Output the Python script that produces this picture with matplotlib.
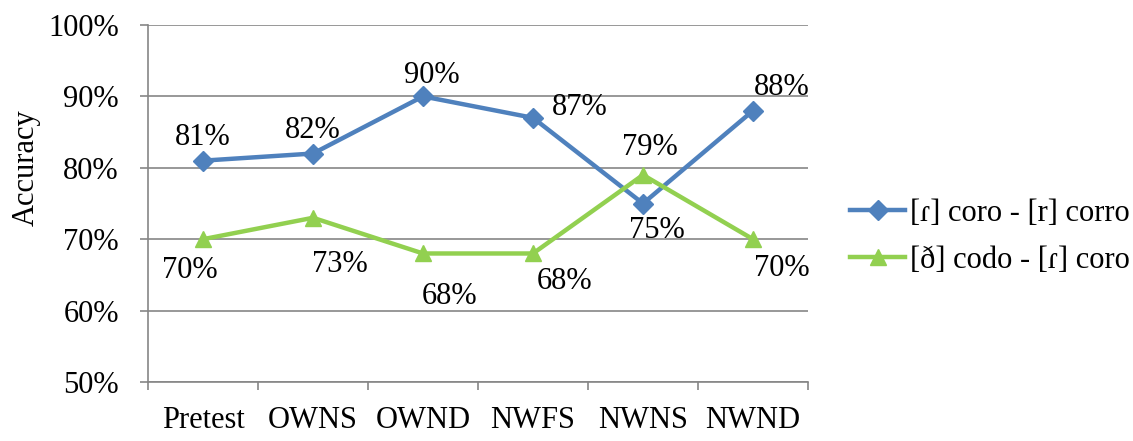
import numpy as np
import matplotlib.pyplot as plt
from matplotlib.ticker import FixedLocator, FuncFormatter

plt.rcParams['font.family'] = ['Liberation Serif', 'DejaVu Serif']

categories = ['Pretest', 'OWNS', 'OWND', 'NWFS', 'NWNS', 'NWND']
tap_trill = [81, 82, 90, 87, 75, 88]
fric_tap = [70, 73, 68, 68, 79, 70]
series_names = ['[ɾ] coro - [r] corro', '[ð] codo - [ɾ] coro']

# label offsets in pixels, relative to each point
off_blue = [(0, 23), (0, 23), (9, 21), (47, 10), (14, -27), (29, 23)]
off_green = [(-13, -31), (27, -47), (27, -43), (32, -28), (7, 27), (29, -29)]

blue = '#4F81BD'
green = '#92D050'
grid = '#868686'
fs = 22

fig = plt.figure(figsize=(11.33, 4.41), dpi=100)
ax = fig.add_axes([148 / 1133, 59 / 441, 660 / 1133, 357 / 441])

x = np.arange(len(categories))
ax.plot(x, tap_trill, color=blue, lw=3.2, marker='D', ms=10, label=series_names[0])
ax.plot(x, fric_tap, color=green, lw=3.2, marker='^', ms=12, label=series_names[1])

for xi, v, o in zip(x, tap_trill, off_blue):
    ax.annotate(f'{v}%', (xi, v), xytext=o, textcoords='offset pixels',
                ha='center', va='center', fontsize=fs)
for xi, v, o in zip(x, fric_tap, off_green):
    ax.annotate(f'{v}%', (xi, v), xytext=o, textcoords='offset pixels',
                ha='center', va='center', fontsize=fs)

ax.set_xlim(-0.5, len(categories) - 0.5)
ax.set_ylim(50, 100)
ax.set_yticks(range(50, 101, 10))
ax.yaxis.set_major_formatter(FuncFormatter(lambda v, p: f'{v:.0f}%'))
ax.xaxis.set_major_locator(FixedLocator(np.arange(-0.5, len(categories), 1)))
ax.xaxis.set_minor_locator(FixedLocator(x))
ax.xaxis.set_major_formatter(FuncFormatter(lambda v, p: ''))
ax.set_xticklabels(categories, minor=True)
ax.tick_params(axis='x', which='minor', length=0, pad=17, labelsize=fs)
ax.tick_params(axis='x', which='major', length=6, color=grid, width=1.2)
ax.tick_params(axis='y', length=6, color=grid, width=1.2, pad=15, labelsize=fs)

ax.grid(axis='y', color=grid, lw=1.2)
ax.set_axisbelow(True)
for s in ['top', 'right']:
    ax.spines[s].set_visible(False)
for s in ['left', 'bottom']:
    ax.spines[s].set_color(grid)
    ax.spines[s].set_linewidth(1.2)

ax.set_ylabel('Accuracy', fontsize=fs)
ax.yaxis.set_label_coords(-0.162, 0.60)

fig.legend(loc='center left', bbox_to_anchor=(838 / 1133, 1 - 237 / 441),
           frameon=False, fontsize=fs, handlelength=1.8, handletextpad=0.15,
           labelspacing=0.6, borderaxespad=0)

fig.savefig('out.png', dpi=100)
